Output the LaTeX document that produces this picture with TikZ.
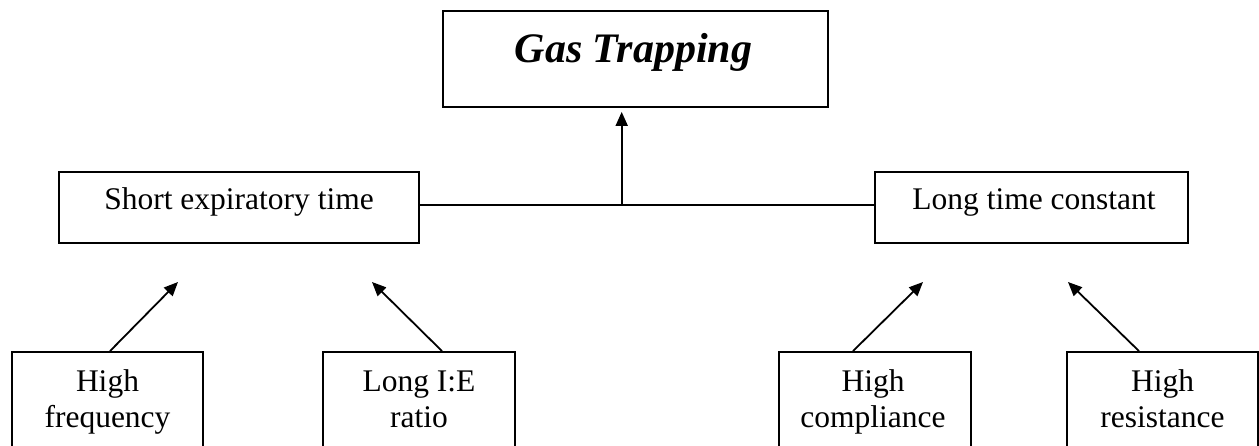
\documentclass[tikz,border=0pt]{standalone}
\usepackage{fontspec}
\setmainfont{Liberation Serif}
\usetikzlibrary{arrows.meta}
\begin{document}
\begin{tikzpicture}[x=1pt,y=-1pt,
  box/.style={draw=black,line width=1.8pt,rectangle,inner sep=0pt},
  lbl/.style={inner sep=0pt,align=center,font=\fontsize{31.5}{36}\selectfont},
  conn/.style={line width=1.8pt},
  arr/.style={line width=1.8pt,-{Triangle[length=14pt,width=12pt]}}]
\useasboundingbox (0,0) rectangle (1259,446);
\clip (0,0) rectangle (1259,446);
% boxes
\node[box,minimum width=385pt,minimum height=96pt] (gt) at (635.5,59) {};
\node[box,minimum width=360pt,minimum height=71pt] (set) at (239,207.5) {};
\node[box,minimum width=313pt,minimum height=71pt] (ltc) at (1031.5,207.5) {};
\node[box,minimum width=191pt,minimum height=118pt] (hf) at (107.5,411) {};
\node[box,minimum width=192pt,minimum height=118pt] (ie) at (419,411) {};
\node[box,minimum width=192pt,minimum height=118pt] (hc) at (875,411) {};
\node[box,minimum width=191pt,minimum height=118pt] (hr) at (1162.5,411) {};
% texts
\node[lbl,anchor=base,font=\fontsize{42}{48}\selectfont\bfseries\itshape] (gtt) at (633.5,63) {Gas Trapping};
\node[lbl,anchor=base] (sett) at (239,210) {Short expiratory time};
\node[lbl,anchor=base] (ltct) at (1034,210) {Long time constant};
\node[lbl,anchor=base] (hft) at (107.5,428) {High\\frequency};
\node[lbl,anchor=base] (iet) at (419,428) {Long I:E\\ratio};
\node[lbl,anchor=base] (hct) at (873,428) {High\\compliance};
\node[lbl,anchor=base] (hrt) at (1162.5,428) {High\\resistance};
% connectors
\coordinate (j) at (621.7,205);
\coordinate (hfe) at (178,282);
\coordinate (iee) at (372,282);
\coordinate (hce) at (923,282);
\coordinate (hre) at (1068,282);
\draw[conn] (set.east |- j) -- (ltc.west |- j);
\draw[arr,shorten >=4pt] (j) -- (gt.south -| j);
\draw[arr] ([xshift=2.5pt]hf.north) -- (hfe);
\draw[arr] ([xshift=23pt]ie.north) -- (iee);
\draw[arr] ([xshift=-22pt]hc.north) -- (hce);
\draw[arr] ([xshift=-23.5pt]hr.north) -- (hre);
\end{tikzpicture}
\end{document}
